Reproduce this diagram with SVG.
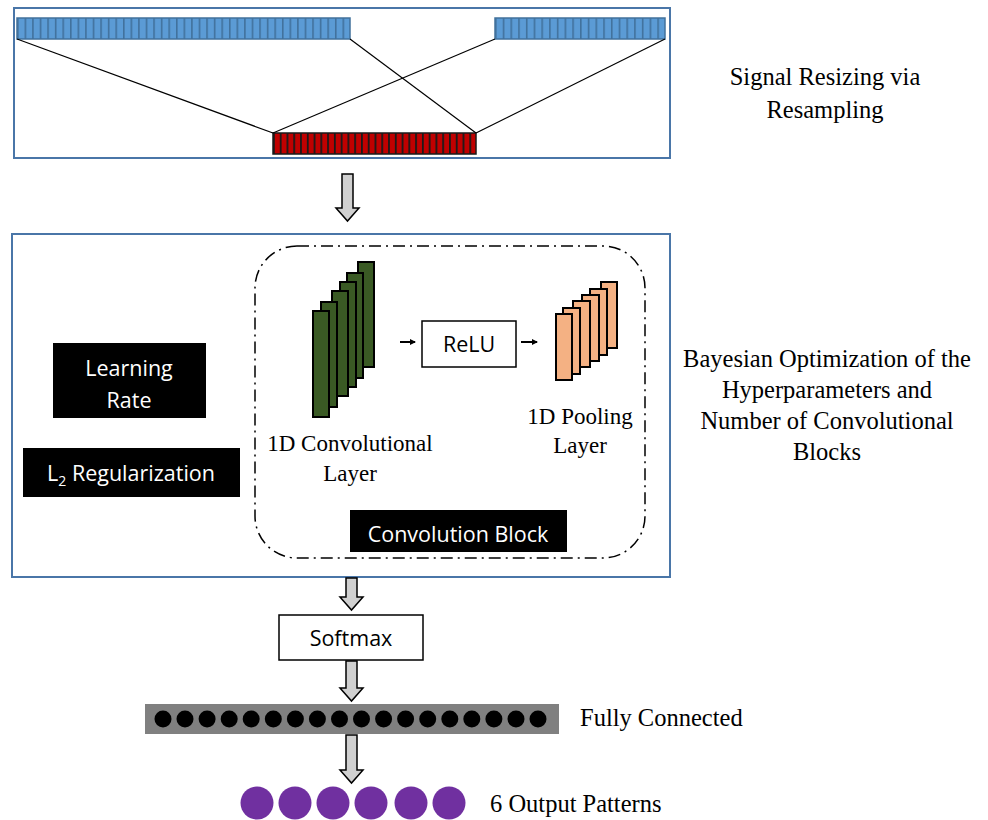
<svg xmlns="http://www.w3.org/2000/svg" width="988" height="820" viewBox="0 0 988 820">
<defs>
<style>
.frame{fill:#fff;stroke:#4a76a8;stroke-width:2}
.line{stroke:#000;stroke-width:1.2;fill:none}
.conv{fill:#3a5a24;stroke:#000;stroke-width:2}
.pool{fill:#f4b183;stroke:#000;stroke-width:2}
.bigarrow{fill:#d0d0d0;stroke:#000;stroke-width:1.5}
.serif{font-family:"Liberation Serif","Times New Roman",serif;font-size:24.5px;fill:#000}
.serif2{font-family:"Liberation Serif","Times New Roman",serif;font-size:23px;fill:#000}
.sans{font-family:"Open Sans","Liberation Sans",Arial,sans-serif;font-size:21.5px}
.blk{fill:#000}
.wt{fill:#fff}
.box{fill:#fff;stroke:#000;stroke-width:1.5}
</style>
<marker id="ah" markerWidth="6" markerHeight="6" refX="5" refY="3" orient="auto" markerUnits="userSpaceOnUse">
<path d="M0,0 L6,3 L0,6 z" fill="#000"/>
</marker>
<pattern id="bluesegs" x="17" y="0" width="7.57" height="40" patternUnits="userSpaceOnUse">
<rect x="0" y="0" width="7.57" height="40" fill="#5b9bd5"/>
<line x1="0.8" y1="0" x2="0.8" y2="40" stroke="#41719c" stroke-width="1.6"/>
</pattern>
<pattern id="bluesegs2" x="495" y="0" width="7.73" height="40" patternUnits="userSpaceOnUse">
<rect x="0" y="0" width="7.73" height="40" fill="#5b9bd5"/>
<line x1="0.8" y1="0" x2="0.8" y2="40" stroke="#41719c" stroke-width="1.6"/>
</pattern>
<pattern id="redsegs" x="273" y="0" width="6.77" height="200" patternUnits="userSpaceOnUse">
<rect x="0" y="0" width="6.77" height="200" fill="#c00000"/>
<line x1="0.9" y1="0" x2="0.9" y2="200" stroke="#1a1a1a" stroke-width="1.8"/>
</pattern>
</defs>

<g id="resize-panel">
<rect class="frame" x="14" y="8" width="656" height="150"/>
<rect x="17" y="18" width="333" height="21" fill="url(#bluesegs)" stroke="#41719c" stroke-width="1.5"/>
<rect x="495" y="18" width="170" height="21" fill="url(#bluesegs2)" stroke="#41719c" stroke-width="1.5"/>
<rect x="273" y="133" width="203" height="21" fill="url(#redsegs)" stroke="#1a1a1a" stroke-width="1.5"/>
</g>

<g id="resize-label">
<text class="serif" x="825" y="85" text-anchor="middle">Signal Resizing via</text>
<text class="serif" x="825" y="118" text-anchor="middle">Resampling</text>
</g>

<g id="optimization-panel">
<rect class="frame" x="12" y="234" width="658" height="343"/>
</g>

<g id="conv-block">
<rect x="255" y="246" width="390" height="312" rx="42" ry="42" fill="none" stroke="#000" stroke-width="1.5" stroke-dasharray="12 5 2 5"/>
</g>

<g id="conv-layer">
<rect class="conv" x="358" y="262" width="16" height="105"/>
<rect class="conv" x="347" y="273" width="16" height="105"/>
<rect class="conv" x="340" y="282" width="16" height="105"/>
<rect class="conv" x="332" y="291" width="16" height="105"/>
<rect class="conv" x="321" y="302" width="16" height="105"/>
<rect class="conv" x="313" y="311" width="16" height="106"/>
<text class="serif2" x="350" y="451" text-anchor="middle">1D Convolutional</text>
<text class="serif2" x="350" y="481" text-anchor="middle">Layer</text>
</g>

<g id="relu">
<rect class="box" x="422" y="321" width="94" height="46"/>
<text class="sans blk" x="469" y="352" text-anchor="middle" font-size="23">ReLU</text>
</g>

<g id="pool-layer">
<rect class="pool" x="601" y="282" width="16" height="66"/>
<rect class="pool" x="590" y="289" width="17" height="66"/>
<rect class="pool" x="582" y="295" width="17" height="66"/>
<rect class="pool" x="573" y="301" width="17" height="66"/>
<rect class="pool" x="563" y="308" width="17" height="66"/>
<rect class="pool" x="556" y="314" width="16" height="66"/>
<text class="serif2" x="580" y="424" text-anchor="middle">1D Pooling</text>
<text class="serif2" x="580" y="453" text-anchor="middle">Layer</text>
</g>

<g id="conv-block-label">
<rect x="350" y="510" width="217" height="42" fill="#000"/>
<text class="sans wt" x="458" y="542" text-anchor="middle">Convolution Block</text>
</g>

<g id="learning-rate">
<rect x="53" y="343" width="153" height="75" fill="#000"/>
<text class="sans wt" x="129" y="376" text-anchor="middle">Learning</text>
<text class="sans wt" x="129" y="408" text-anchor="middle">Rate</text>
</g>

<g id="l2-regularization">
<rect x="23" y="448" width="217" height="49" fill="#000"/>
<text class="sans wt" x="131" y="481" text-anchor="middle">L<tspan font-size="14" dy="5">2</tspan><tspan dy="-5"> Regularization</tspan></text>
</g>

<g id="optimization-label">
<text class="serif" x="827" y="367" text-anchor="middle">Bayesian Optimization of the</text>
<text class="serif" x="827" y="398" text-anchor="middle">Hyperparameters and</text>
<text class="serif" x="827" y="429" text-anchor="middle">Number of Convolutional</text>
<text class="serif" x="827" y="460" text-anchor="middle">Blocks</text>
</g>

<g id="softmax">
<rect class="box" x="279" y="615" width="144" height="45"/>
<text class="sans blk" x="351" y="646" text-anchor="middle">Softmax</text>
</g>

<g id="fully-connected">
<rect x="145" y="704" width="414" height="30" fill="#808080"/>
<g fill="#000">
<circle cx="163" cy="719" r="8.5"/><circle cx="185" cy="719" r="8.5"/><circle cx="207.1" cy="719" r="8.5"/><circle cx="229.2" cy="719" r="8.5"/><circle cx="251.2" cy="719" r="8.5"/><circle cx="273.3" cy="719" r="8.5"/><circle cx="295.4" cy="719" r="8.5"/><circle cx="317.4" cy="719" r="8.5"/><circle cx="339.5" cy="719" r="8.5"/><circle cx="361.5" cy="719" r="8.5"/><circle cx="383.6" cy="719" r="8.5"/><circle cx="405.6" cy="719" r="8.5"/><circle cx="427.7" cy="719" r="8.5"/><circle cx="449.8" cy="719" r="8.5"/><circle cx="471.8" cy="719" r="8.5"/><circle cx="493.9" cy="719" r="8.5"/><circle cx="516" cy="719" r="8.5"/><circle cx="538" cy="719" r="8.5"/>
</g>
<text class="serif" x="580" y="726">Fully Connected</text>
</g>

<g id="output-patterns">
<g fill="#7030a0">
<circle cx="257" cy="803" r="16.5"/><circle cx="295" cy="803" r="16.5"/><circle cx="333" cy="803" r="16.5"/><circle cx="371" cy="803" r="16.5"/><circle cx="411" cy="803" r="16.5"/><circle cx="449" cy="803" r="16.5"/>
</g>
<text class="serif" x="490" y="812">6 Output Patterns</text>
</g>

<g id="connectors">
<line class="line" x1="17" y1="39" x2="273" y2="133"/>
<line class="line" x1="350" y1="39" x2="476" y2="133"/>
<line class="line" x1="495" y1="39" x2="273" y2="133"/>
<line class="line" x1="665" y1="39" x2="476" y2="133"/>
<path class="bigarrow" d="M342,174 H353 V208 H359 L347.5,221 L336,208 H342 Z"/>
<path class="bigarrow" d="M346,578 H357 V597 H363 L351.5,610 L340,597 H346 Z"/>
<path class="bigarrow" d="M346,661 H357 V688 H363 L351.5,701 L340,688 H346 Z"/>
<path class="bigarrow" d="M346,735 H357 V770 H363 L351.5,783 L340,770 H346 Z"/>
<line x1="400" y1="342" x2="415" y2="342" stroke="#000" stroke-width="2" marker-end="url(#ah)"/>
<line x1="521" y1="342" x2="537" y2="342" stroke="#000" stroke-width="2" marker-end="url(#ah)"/>
</g>
</svg>
